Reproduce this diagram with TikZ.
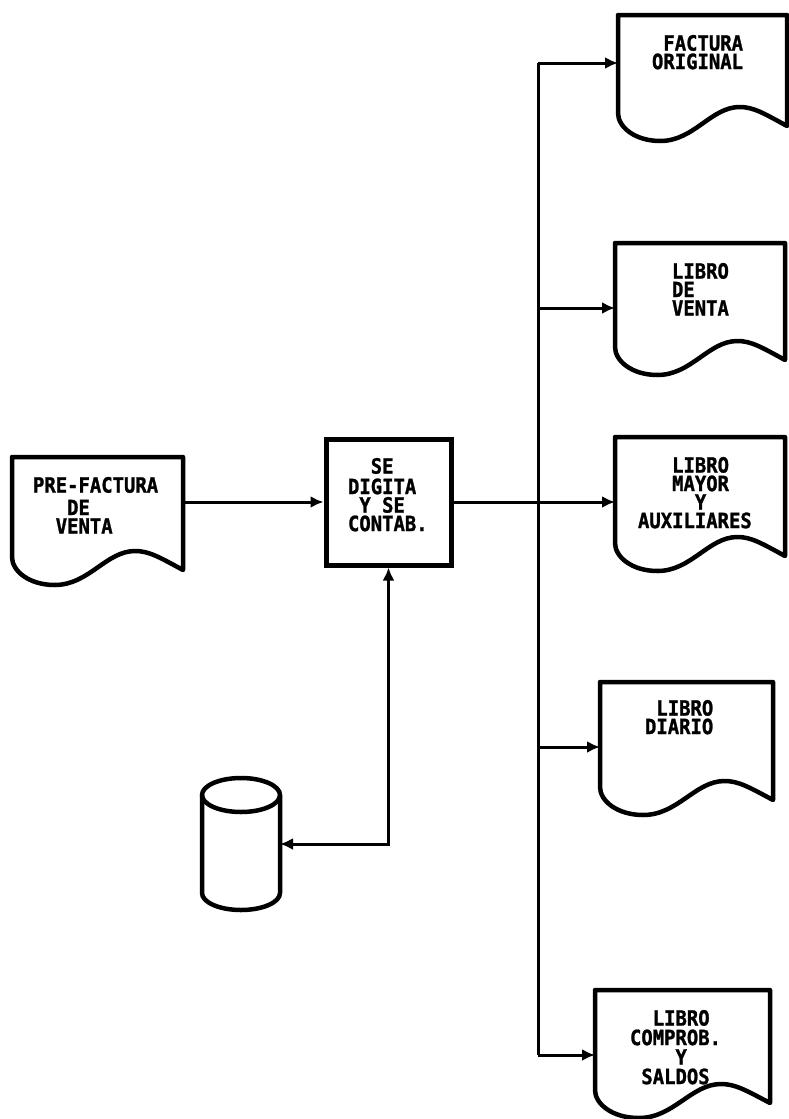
\documentclass[tikz,border=0pt]{standalone}
\usepackage{fontspec}
\newfontfamily\dotfont[FakeStretch=0.9, BoldFeatures={FakeBold=1.2}]{DejaVu Sans Mono}
\usetikzlibrary{arrows.meta,calc}
\tikzset{
  conn/.style={line width=3pt},
  arr/.style={conn,-{Latex[length=13pt,width=12pt]}},
  shapeline/.style={line width=4.5pt, line join=round},
  area/.style={draw=none, inner sep=0pt, outer sep=0pt, rectangle},
  txt/.style={inner sep=0pt, outer sep=0pt, anchor=north west, align=left,
    font=\dotfont\bfseries\fontsize{21pt}{18.5pt}\selectfont},
  procbox/.style={draw, line width=5pt, minimum width=125pt, minimum height=126pt, inner sep=0pt}
}
\newcommand\docframe[2]{%
  \begin{scope}[shift={(#1.south west)}]
    \draw[shapeline] (0,0) -- (#1.north west) -- (#1.north east) -- (#2,13)
      .. controls (0.86*#2,0) and (0.8*#2,-6) .. (0.72*#2,-6)
      .. controls (0.55*#2,-6) and (0.45*#2,28) .. (0.25*#2,28)
      .. controls (0.1*#2,28) and (0,14) .. (0,0) -- cycle;
  \end{scope}}
\begin{document}
\begin{tikzpicture}[x=1pt,y=-1pt]
\useasboundingbox[fill=white] (0,0) rectangle (788,1119);

% documents (areas)
\node[area, minimum width=171pt, minimum height=100pt] (pre) at (97.5,507) {};
\node[area, minimum width=169pt, minimum height=98pt]  (fo)  at (702.5,64) {};
\node[area, minimum width=170pt, minimum height=104pt] (lv)  at (700,295) {};
\node[area, minimum width=170pt, minimum height=106pt] (lm)  at (700,490) {};
\node[area, minimum width=173pt, minimum height=105pt] (ld)  at (686.5,734.5) {};
\node[area, minimum width=175pt, minimum height=100pt] (lc)  at (682.5,1040) {};
\docframe{pre}{171}
\docframe{fo}{169}
\docframe{lv}{170}
\docframe{lm}{170}
\docframe{ld}{173}
\docframe{lc}{175}

% texts
\node[txt] (pret) at (33,477) {PRE-FACTURA\\[4pt]\hphantom{XXX}DE\\\hphantom{XX}VENTA};
\node[txt] (fot) at (652,35) {\hphantom{X}FACTURA\\ORIGINAL};
\node[txt] (lvt) at (672,263) {LIBRO\\DE\\VENTA};
\node[txt] (lmt) at (638,457) {\hphantom{XXX}LIBRO\\\hphantom{XXX}MAYOR\\\hphantom{XXXXX}Y\\AUXILIARES};
\node[txt] (ldt) at (645,700) {\hphantom{X}LIBRO\\DIARIO};
\node[txt] (lct) at (630,1010) {\hphantom{XX}LIBRO\\[1pt]COMPROB.\\[1pt]\hphantom{XXXX}Y\\[1pt]\hphantom{X}SALDOS};

% process box
\node[procbox] (box) at (388.5,502) {};
\node[txt] (boxt) at (348,458) {\hphantom{XX}SE\\[2pt]DIGITA\\\hphantom{X}Y\hphantom{X}SE\\CONTAB.};

% cylinder
\node[area, minimum width=78pt, minimum height=132pt] (cyl) at (241,844) {};
\draw[shapeline] ($(cyl.north)+(0,17)$) ellipse [x radius=39, y radius=17];
\draw[shapeline] ($(cyl.north west)+(0,17)$) -- ($(cyl.south west)+(0,-17)$)
  arc[start angle=180, end angle=0, x radius=39, y radius=17]
  -- ($(cyl.north east)+(0,17)$);

% connectors
\coordinate (j1) at (538,63);
\coordinate (j2) at (538,308);
\coordinate (j4) at (538,747);
\coordinate (j5) at (538,1055);
\draw[conn] (j1) -- (j5);
\draw[arr] (j1) -- (j1 -| fo.west);
\draw[arr] (j2) -- (j2 -| lv.west);
\draw[arr] (box.east) -- (box.east -| lm.west);
\draw[arr] (j4) -- (j4 -| ld.west);
\draw[arr] (j5) -- (j5 -| lc.west);
\draw[arr] (pre.east |- box.west) -- (box.west);
\draw[conn, {Latex[length=13pt,width=12pt]}-{Latex[length=13pt,width=12pt]}] (box.south) |- (cyl.east);
\end{tikzpicture}
\end{document}
